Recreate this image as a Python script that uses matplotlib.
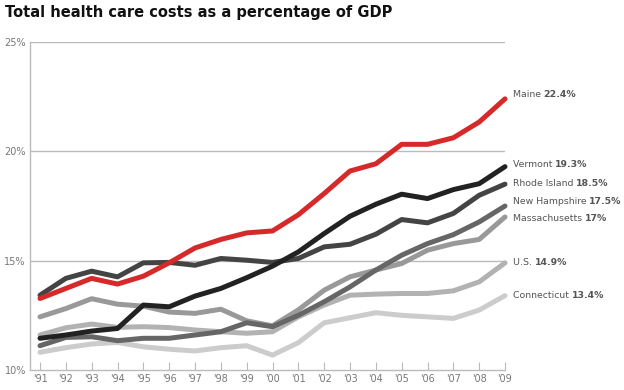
import matplotlib
matplotlib.use("Agg")
import matplotlib.pyplot as plt

years = list(range(1991, 2010))
year_labels = ["'%02d" % (y % 100) for y in years]

maine = [13.27, 13.73, 14.19, 13.93, 14.29, 14.9, 15.58, 15.97, 16.27, 16.36, 17.1, 18.07, 19.1, 19.43, 20.32, 20.32, 20.62, 21.34, 22.4]
vermont = [11.45, 11.6, 11.78, 11.9, 12.97, 12.89, 13.38, 13.73, 14.22, 14.75, 15.4, 16.24, 17.03, 17.58, 18.04, 17.84, 18.25, 18.52, 19.3]
rhode_island = [13.42, 14.19, 14.52, 14.26, 14.9, 14.92, 14.79, 15.1, 15.02, 14.92, 15.1, 15.63, 15.75, 16.21, 16.88, 16.73, 17.16, 17.99, 18.5]
new_hampshire = [11.11, 11.49, 11.52, 11.34, 11.45, 11.45, 11.6, 11.75, 12.16, 11.98, 12.5, 13.12, 13.8, 14.57, 15.25, 15.78, 16.19, 16.77, 17.5]
massachusetts = [12.43, 12.81, 13.26, 13.01, 12.92, 12.65, 12.59, 12.78, 12.25, 12.02, 12.75, 13.65, 14.26, 14.57, 14.87, 15.48, 15.78, 15.97, 17.0]
us = [11.6, 11.93, 12.1, 11.95, 11.98, 11.94, 11.83, 11.75, 11.68, 11.75, 12.43, 12.97, 13.42, 13.47, 13.5, 13.5, 13.62, 14.03, 14.9]
connecticut = [10.81, 11.02, 11.19, 11.26, 11.06, 10.95, 10.87, 11.02, 11.11, 10.68, 11.25, 12.16, 12.39, 12.62, 12.5, 12.43, 12.36, 12.74, 13.4]

series_names = ["Connecticut", "U.S.", "Massachusetts", "New Hampshire", "Rhode Island", "Vermont", "Maine"]
series_values = [connecticut, us, massachusetts, new_hampshire, rhode_island, vermont, maine]
series_labels = ["13.4%", "14.9%", "17%", "17.5%", "18.5%", "19.3%", "22.4%"]
colors = ["#cccccc", "#b2b2b2", "#999999", "#666666", "#444444", "#222222", "#d62a2a"]
label_offsets = [0.0, 0.0, -0.05, 0.2, 0.05, 0.1, 0.2]

y_ticks = [10, 15, 20, 25]
y_tick_labels = ["10%", "15%", "20%", "25%"]

fig = plt.figure(figsize=(6.24, 3.9), dpi=100)
ax = fig.add_axes([30 / 624, 1 - 370 / 390, 475 / 624, 328 / 390])
ax.set_xlim(1991 - 10 / 25.83, 2009)
ax.set_ylim(10, 25)

for yv in [15, 20, 25]:
    ax.axhline(yv, color="#bbbbbb", lw=1.0, zorder=1)

for name, vals, lab, c, off in zip(series_names, series_values, series_labels, colors, label_offsets):
    ax.plot(years, vals, color=c, lw=3.6, solid_capstyle="round", solid_joinstyle="round", zorder=3, clip_on=False)
    t = ax.text(2009.3, vals[-1] + off, name + " ", color="#555555", fontsize=6.75, va="center", ha="left")
    ax.annotate(lab, xy=(1, 0.5), xycoords=t, xytext=(0, 0), textcoords="offset points",
                color="#555555", fontsize=6.75, fontweight="bold", va="center", ha="left")

for s in ["top", "right"]:
    ax.spines[s].set_visible(False)
ax.spines["left"].set_color("#bbbbbb")
ax.spines["bottom"].set_color("#bbbbbb")
ax.spines["left"].set_linewidth(1.0)
ax.spines["bottom"].set_linewidth(1.0)

ax.set_xticks(years)
ax.set_xticklabels(year_labels)
ax.set_yticks(y_ticks)
ax.set_yticklabels(y_tick_labels)
ax.tick_params(axis="x", direction="in", length=5.5, color="#bbbbbb", labelsize=7, labelcolor="#777777", pad=3)
ax.tick_params(axis="y", length=0, labelsize=7, labelcolor="#777777", pad=3)

fig.text(5 / 624, 1 - 12 / 390, "Total health care costs as a percentage of GDP", fontsize=10.5, fontweight="bold",
         color="#111111", va="center", ha="left")

fig.savefig("out.png", dpi=100)
